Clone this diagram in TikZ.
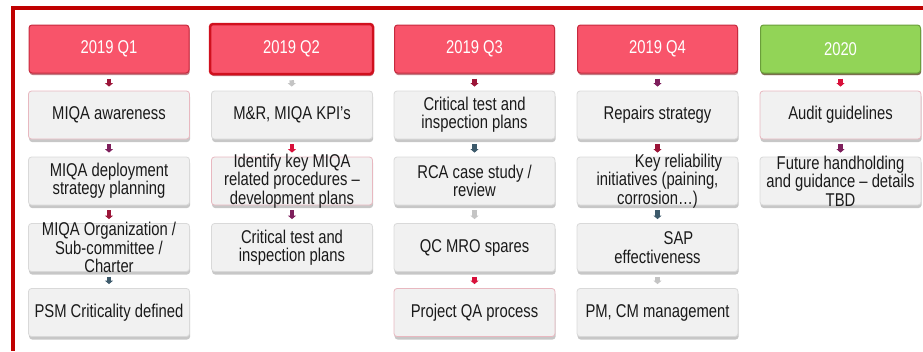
\documentclass[tikz,border=0pt]{standalone}
\usepackage{fontspec}
\setmainfont{Liberation Sans}[FakeStretch=0.8]
\usetikzlibrary{arrows.meta,shadows}

\definecolor{framered}{HTML}{C00000}
\definecolor{hdrfill}{HTML}{F8546A}
\definecolor{hdrline}{HTML}{C62A3E}
\definecolor{hdrshade}{HTML}{8E1020}
\definecolor{selline}{HTML}{D0101E}
\definecolor{grnfill}{HTML}{92D457}
\definecolor{grnline}{HTML}{6A9E3A}
\definecolor{grnshade}{HTML}{3F6420}
\definecolor{cardfill}{HTML}{F1F1F1}
\definecolor{cardline}{HTML}{D9D9D9}
\definecolor{pinkline}{HTML}{E8B8C0}
\definecolor{ink}{HTML}{1A1A1A}
% connector colours
\definecolor{cRed}{HTML}{D8103A}
\definecolor{cWine}{HTML}{9B1538}
\definecolor{cPlum}{HTML}{7E1F5C}
\definecolor{cSlate}{HTML}{3D5A6B}
\definecolor{cGrey}{HTML}{C4C4C4}

\newcommand\txt{\fontsize{18.5}{18.4}\selectfont}

\begin{document}
\begin{tikzpicture}[x=1pt,y=-1pt,
  hdr/.style={draw=hdrline, line width=1pt, fill=hdrfill, rounded corners=3pt,
    minimum width=160pt, minimum height=48pt, inner sep=0pt, text=white, font=\txt,
    drop shadow={shadow xshift=0.6pt, shadow yshift=-2pt, fill=hdrshade, opacity=0.55}},
  selhdr/.style={hdr, draw=selline, line width=2.5pt, minimum width=163pt, minimum height=50pt},
  grnhdr/.style={hdr, draw=grnline, fill=grnfill,
    drop shadow={shadow xshift=0.6pt, shadow yshift=-2pt, fill=grnshade, opacity=0.55}},
  card/.style={draw=cardline, line width=0.8pt, fill=cardfill, rounded corners=3pt,
    minimum width=161pt, minimum height=48pt, inner sep=0pt,
    drop shadow={shadow xshift=0.6pt, shadow yshift=-3pt, fill=black, opacity=0.22}},
  pinkcard/.style={card, draw=pinkline},
  label/.style={align=center, font=\txt, text=ink, inner sep=0pt},
  link/.style={line width=4.5pt, -{Triangle[width=8pt,length=3.5pt]},
    shorten <=5pt, shorten >=4pt},
  frame/.style={draw=framered, line width=4pt}
]
\useasboundingbox (0,0) rectangle (923,351);

% outer frame (top and left edges)
\coordinate (fr-tr) at (923,8);
\coordinate (fr-tl) at (12.7,8);
\coordinate (fr-bl) at (12.7,351);
\draw[frame] (fr-tr) -- (fr-tl) -- (fr-bl);

% ---------- 2019 Q1 ----------
\node[hdr] (h1) at (109,49) {2019 Q1};
\node[pinkcard] (a1) at (109,115) {};
\node[card] (a2) at (109,181) {};
\node[card] (a3) at (109,247.5) {};
\node[card] (a4) at (109,312.5) {};
\node[label] (a1t) at (a1.center) {MIQA awareness};
\node[label] (a2t) at (a2.center) {MIQA deployment\\strategy planning};
\node[label] (a3t) at (a3.center) {MIQA Organization /\\Sub-committee /\\Charter};
\node[label] (a4t) at (a4.center) {PSM Criticality defined};
\draw[link, cWine] (h1) -- (a1);
\draw[link, cPlum] (a1) -- (a2);
\draw[link, cWine] (a2) -- (a3);
\draw[link, cSlate] (a3) -- (a4);

% ---------- 2019 Q2 ----------
\node[selhdr] (h2) at (291.5,49) {2019 Q2};
\node[card] (b1) at (292,115) {};
\node[pinkcard] (b2) at (292,181) {};
\node[card] (b3) at (292,247.5) {};
\node[label] (b1t) at (b1.center) {M\&R, MIQA KPI’s};
\node[label] (b2t) at (b2.center) {Identify key MIQA\\related procedures –\\development plans};
\node[label] (b3t) at (b3.center) {Critical test and\\inspection plans};
\draw[link, cGrey] (h2) -- (b1);
\draw[link, cRed] (b1) -- (b2);
\draw[link, cPlum] (b2) -- (b3);

% ---------- 2019 Q3 ----------
\node[hdr] (h3) at (474.5,49) {2019 Q3};
\node[card] (c1) at (474.5,115) {};
\node[card] (c2) at (474.5,181) {};
\node[card] (c3) at (474.5,247.5) {};
\node[pinkcard] (c4) at (474.5,312.5) {};
\node[label] (c1t) at (c1.center) {Critical test and\\inspection plans};
\node[label] (c2t) at (c2.center) {RCA case study /\\review};
\node[label] (c3t) at (c3.center) {QC MRO spares};
\node[label] (c4t) at (c4.center) {Project QA process};
\draw[link, cWine] (h3) -- (c1);
\draw[link, cSlate] (c1) -- (c2);
\draw[link, cGrey] (c2) -- (c3);
\draw[link, cRed] (c3) -- (c4);

% ---------- 2019 Q4 ----------
\node[hdr] (h4) at (657.5,49) {2019 Q4};
\node[card] (d1) at (657.5,115) {};
\node[card] (d2) at (657.5,181) {};
\node[card] (d3) at (657.5,247.5) {};
\node[card] (d4) at (657.5,312.5) {};
\node[label] (d1t) at (d1.center) {Repairs strategy};
\node[label] (d2t) at (d2.center) {\hspace*{42pt}Key reliability\\initiatives (paining,\\corrosion…)};
\node[label] (d3t) at (d3.center) {\hspace*{42pt}SAP\\effectiveness};
\node[label] (d4t) at (d4.center) {PM, CM management};
\draw[link, cPlum] (h4) -- (d1);
\draw[link, cWine] (d1) -- (d2);
\draw[link, cSlate] (d2) -- (d3);
\draw[link, cGrey] (d3) -- (d4);

% ---------- 2020 ----------
\node[grnhdr] (h5) at (840.5,49) {2020};
\node[pinkcard] (e1) at (840.5,115) {};
\node[card] (e2) at (840.5,181) {};
\node[label] (e1t) at (e1.center) {Audit guidelines};
\node[label] (e2t) at (e2.center) {Future handholding\\and guidance – details\\TBD};
\draw[link, cRed] (h5) -- (e1);
\draw[link, cPlum] (e1) -- (e2);

\end{tikzpicture}
\end{document}
